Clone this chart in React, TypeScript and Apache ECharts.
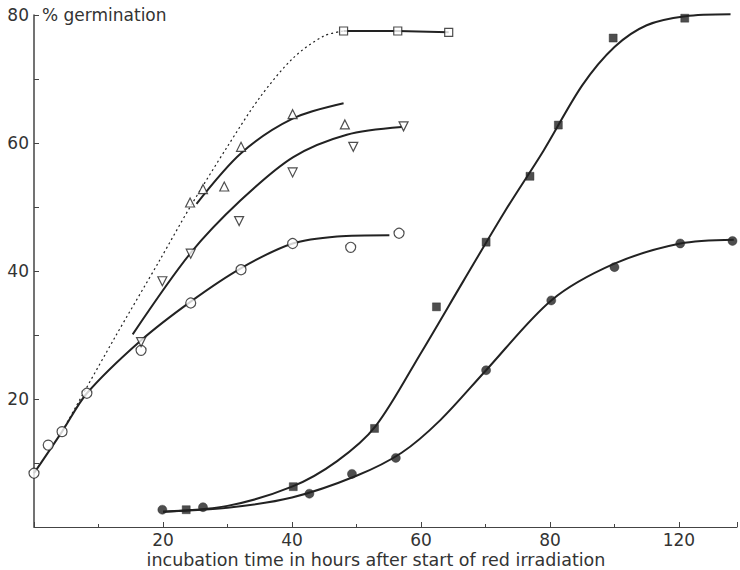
import React, { useEffect, useRef } from "react";
import * as echarts from "echarts";

// Marker data (hours, % germination)
const openCircles = [[0, 8.4], [2.2, 12.8], [4.35, 14.9], [8.2, 20.9], [16.6, 27.6], [24.3, 35.0], [32.1, 40.2], [40.1, 44.3], [49.1, 43.7], [56.6, 45.9]];
const downTriangles = [[16.6, 28.9], [19.9, 38.4], [24.3, 42.7], [31.8, 47.8], [40.1, 55.4], [49.5, 59.4], [57.3, 62.6]];
const upTriangles = [[24.2, 50.7], [26.2, 52.8], [29.5, 53.2], [32.1, 59.4], [40.1, 64.5], [48.2, 62.9]];
const openSquares = [[48, 77.5], [56.4, 77.5], [64.3, 77.3]];
const filledSquares = [[23.6, 2.7], [40.2, 6.3], [52.8, 15.4], [62.4, 34.4], [70.1, 44.5], [76.9, 54.8], [81.3, 62.8], [89.8, 76.4], [100.9, 79.5]];
const filledCircles = [[19.9, 2.7], [26.2, 3.1], [42.7, 5.2], [49.3, 8.3], [56.1, 10.8], [70.1, 24.5], [80.2, 35.4], [90, 40.6], [100.2, 44.3], [108.3, 44.7]];

// Fitted curves as drawn
const openCircleCurve = [[0, 8.4], [4.35, 14.9], [8.2, 20.9], [16.4, 29.0], [24.4, 35.3], [32.2, 40.5], [40.1, 44.3], [47, 45.4], [55.1, 45.6]];
const downTriangleCurve = [[15.3, 30.1], [24.2, 42.7], [32, 51], [40.2, 57.8], [48.5, 61.3], [57, 62.5]];
const upTriangleCurve = [[25.2, 50.5], [32.1, 58.4], [40.1, 63.8], [48, 66.2]];
const dottedCurve = [[4.4, 15], [12.3, 29.2], [19.5, 41.7], [24.2, 50], [29.9, 59.3], [35, 67.1], [40.2, 73.3], [44.9, 76.7], [48, 77.5]];
const filledSquareCurve = [[20, 2.4], [30, 3.3], [40, 6.3], [47, 10.3], [53, 15.8], [60, 27.2], [66.5, 38.3], [73, 49.3], [79, 58.8], [85, 69], [90, 75], [95, 78.4], [101, 79.8], [108, 80.1]];
const filledCircleCurve = [[20, 2.4], [30, 3], [40, 4.6], [50, 8], [57, 11.6], [63, 16.7], [70.1, 24.5], [80.2, 35.4], [89.9, 41.1], [100.2, 44.3], [108.5, 44.9]];

const xTickLabels: Record<number, string> = { 20: "20", 40: "40", 60: "60", 80: "80", 100: "120" };
const yTickLabels = [20, 40, 60, 80];

const INK = "#222";
const TEXT = "#333";
const FONT = "DejaVu Sans, Verdana, sans-serif";

export default function App() {
  const ref = useRef<HTMLDivElement>(null);
  useEffect(() => {
    if (!ref.current) return;
    const chart = echarts.init(ref.current, undefined, { renderer: "svg" });
    const curve = (data: number[][], lineExtra: any = {}, smooth: any = 0.3) => ({
      type: "line",
      data,
      smooth,
      showSymbol: false,
      symbol: "none",
      z: 2,
      silent: true,
      clip: false,
      lineStyle: { color: INK, width: 2, ...lineExtra },
    });
    const markers = (data: number[][], symbol: string, size: number, filled: boolean, rotate = 0) => ({
      type: "scatter",
      data,
      symbol,
      symbolSize: size,
      symbolRotate: rotate,
      clip: false,
      z: 3,
      itemStyle: filled
        ? { color: INK, borderColor: INK, borderWidth: 0.5 }
        : { color: "#fff", borderColor: INK, borderWidth: 1.2 },
    });
    chart.setOption({
      animation: false,
      backgroundColor: "#fff",
      grid: { left: 34, right: 1, top: 15, bottom: 43, containLabel: false },
      xAxis: {
        type: "value",
        min: 0,
        max: 109,
        interval: 20,
        axisLine: { show: true, lineStyle: { color: "#444", width: 1 } },
        axisTick: { show: true, inside: true, length: 5, lineStyle: { color: "#444" } },
        minorTick: { show: true, splitNumber: 2, length: 3, lineStyle: { color: "#444" } },
        splitLine: { show: false },
        axisLabel: {
          showMinLabel: false,
          formatter: (v: number) => xTickLabels[v] || "",
          color: TEXT,
          fontSize: 17,
          fontFamily: FONT,
          margin: 4,
        },
      },
      yAxis: {
        type: "value",
        min: 0,
        max: 80,
        interval: 20,
        axisLine: { show: true, lineStyle: { color: "#444", width: 1.5 } },
        axisTick: { show: true, inside: true, length: 5, lineStyle: { color: "#444" } },
        minorTick: { show: true, splitNumber: 2, length: 5, lineStyle: { color: "#444" } },
        splitLine: { show: false },
        axisLabel: {
          showMinLabel: false,
          formatter: (v: number) => (yTickLabels.includes(v) ? String(v) : ""),
          color: TEXT,
          fontSize: 17,
          fontFamily: FONT,
          margin: 5,
        },
      },
      graphic: [
        {
          type: "text",
          x: 42,
          y: 15,
          style: { text: "% germination", fill: TEXT, font: `17px ${FONT}`, textVerticalAlign: "middle" },
        },
        {
          type: "text",
          x: 376,
          y: 560,
          style: {
            text: "incubation time in hours after start of red irradiation",
            fill: TEXT,
            font: `17.5px ${FONT}`,
            textAlign: "center",
            textVerticalAlign: "middle",
          },
        },
      ],
      series: [
        curve(openCircleCurve),
        curve(downTriangleCurve),
        curve(upTriangleCurve),
        curve(dottedCurve, { type: [2, 3], width: 1.2 }),
        curve(openSquares, {}, false),
        curve(filledSquareCurve),
        curve(filledCircleCurve),
        markers(openCircles, "circle", 10, false),
        markers(downTriangles, "triangle", 9, false, 180),
        markers(upTriangles, "triangle", 9, false),
        markers(openSquares, "rect", 8, false),
        markers(filledSquares, "rect", 8, true),
        markers(filledCircles, "circle", 9, true),
      ],
    });
    return () => chart.dispose();
  }, []);
  return <div ref={ref} style={{ width: 740, height: 570, position: "absolute", left: 0, top: 0 }} />;
}
